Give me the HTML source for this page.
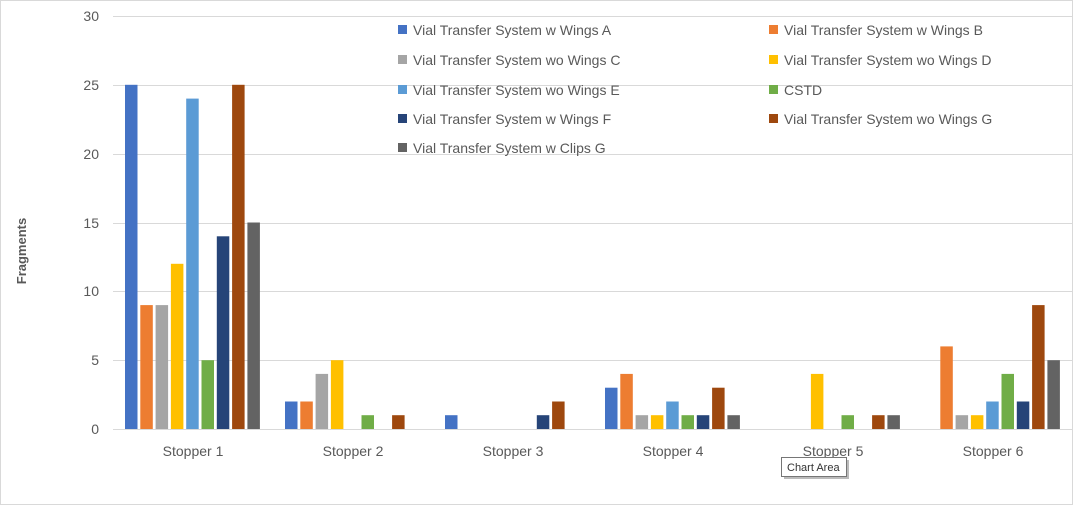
<!DOCTYPE html>
<html><head><style>
body{margin:0;background:#fff;}
svg text{font-family:"Liberation Sans",sans-serif;fill:#595959;}
</style></head><body>
<svg width="1074" height="506" xmlns="http://www.w3.org/2000/svg">
<rect x="0.5" y="0.5" width="1072" height="504" fill="#fff" stroke="#d9d9d9"/>
<g stroke="#d9d9d9" stroke-width="1">
<line x1="113" x2="1073" y1="16.5" y2="16.5"/>
<line x1="113" x2="1073" y1="85.5" y2="85.5"/>
<line x1="113" x2="1073" y1="154.5" y2="154.5"/>
<line x1="113" x2="1073" y1="223.5" y2="223.5"/>
<line x1="113" x2="1073" y1="291.5" y2="291.5"/>
<line x1="113" x2="1073" y1="360.5" y2="360.5"/>
<line x1="113" x2="1073" y1="429.5" y2="429.5"/>
</g>
<g font-size="14" text-anchor="end">
<text x="99" y="21">30</text><text x="99" y="90">25</text><text x="99" y="159">20</text>
<text x="99" y="228">15</text><text x="99" y="296">10</text><text x="99" y="365">5</text><text x="99" y="434">0</text>
</g>
<text transform="translate(26,251) rotate(-90)" font-size="13" font-weight="bold" text-anchor="middle">Fragments</text>
<g>
<!-- Stopper 1 -->
<rect x="125" y="84.8" width="12.5" height="344.2" fill="#4472C4"/>
<rect x="140.3" y="305.1" width="12.5" height="123.9" fill="#ED7D31"/>
<rect x="155.6" y="305.1" width="12.5" height="123.9" fill="#A5A5A5"/>
<rect x="170.9" y="263.8" width="12.5" height="165.2" fill="#FFC000"/>
<rect x="186.2" y="98.6" width="12.5" height="330.4" fill="#5B9BD5"/>
<rect x="201.5" y="360.2" width="12.5" height="68.8" fill="#70AD47"/>
<rect x="216.8" y="236.3" width="12.5" height="192.7" fill="#264478"/>
<rect x="232.1" y="84.8" width="12.5" height="344.2" fill="#9E480E"/>
<rect x="247.4" y="222.5" width="12.5" height="206.5" fill="#636363"/>
<!-- Stopper 2 -->
<rect x="285" y="401.5" width="12.5" height="27.5" fill="#4472C4"/>
<rect x="300.3" y="401.5" width="12.5" height="27.5" fill="#ED7D31"/>
<rect x="315.6" y="373.9" width="12.5" height="55.1" fill="#A5A5A5"/>
<rect x="330.9" y="360.2" width="12.5" height="68.8" fill="#FFC000"/>
<rect x="361.5" y="415.2" width="12.5" height="13.8" fill="#70AD47"/>
<rect x="392.1" y="415.2" width="12.5" height="13.8" fill="#9E480E"/>
<!-- Stopper 3 -->
<rect x="445" y="415.2" width="12.5" height="13.8" fill="#4472C4"/>
<rect x="536.8" y="415.2" width="12.5" height="13.8" fill="#264478"/>
<rect x="552.1" y="401.5" width="12.5" height="27.5" fill="#9E480E"/>
<!-- Stopper 4 -->
<rect x="605" y="387.7" width="12.5" height="41.3" fill="#4472C4"/>
<rect x="620.3" y="373.9" width="12.5" height="55.1" fill="#ED7D31"/>
<rect x="635.6" y="415.2" width="12.5" height="13.8" fill="#A5A5A5"/>
<rect x="650.9" y="415.2" width="12.5" height="13.8" fill="#FFC000"/>
<rect x="666.2" y="401.5" width="12.5" height="27.5" fill="#5B9BD5"/>
<rect x="681.5" y="415.2" width="12.5" height="13.8" fill="#70AD47"/>
<rect x="696.8" y="415.2" width="12.5" height="13.8" fill="#264478"/>
<rect x="712.1" y="387.7" width="12.5" height="41.3" fill="#9E480E"/>
<rect x="727.4" y="415.2" width="12.5" height="13.8" fill="#636363"/>
<!-- Stopper 5 -->
<rect x="810.9" y="373.9" width="12.5" height="55.1" fill="#FFC000"/>
<rect x="841.5" y="415.2" width="12.5" height="13.8" fill="#70AD47"/>
<rect x="872.1" y="415.2" width="12.5" height="13.8" fill="#9E480E"/>
<rect x="887.4" y="415.2" width="12.5" height="13.8" fill="#636363"/>
<!-- Stopper 6 -->
<rect x="940.3" y="346.4" width="12.5" height="82.6" fill="#ED7D31"/>
<rect x="955.6" y="415.2" width="12.5" height="13.8" fill="#A5A5A5"/>
<rect x="970.9" y="415.2" width="12.5" height="13.8" fill="#FFC000"/>
<rect x="986.2" y="401.5" width="12.5" height="27.5" fill="#5B9BD5"/>
<rect x="1001.5" y="373.9" width="12.5" height="55.1" fill="#70AD47"/>
<rect x="1016.8" y="401.5" width="12.5" height="27.5" fill="#264478"/>
<rect x="1032.1" y="305.1" width="12.5" height="123.9" fill="#9E480E"/>
<rect x="1047.4" y="360.2" width="12.5" height="68.8" fill="#636363"/>
</g>
<g font-size="14" text-anchor="middle">
<text x="193" y="456">Stopper 1</text><text x="353" y="456">Stopper 2</text><text x="513" y="456">Stopper 3</text>
<text x="673" y="456">Stopper 4</text><text x="833" y="456">Stopper 5</text><text x="993" y="456">Stopper 6</text>
</g>
<g font-size="14">
<rect x="398" y="25" width="9" height="9" fill="#4472C4"/><text x="413" y="35">Vial Transfer System w Wings A</text>
<rect x="769" y="25" width="9" height="9" fill="#ED7D31"/><text x="784" y="35">Vial Transfer System w Wings B</text>
<rect x="398" y="55" width="9" height="9" fill="#A5A5A5"/><text x="413" y="65">Vial Transfer System wo Wings C</text>
<rect x="769" y="55" width="9" height="9" fill="#FFC000"/><text x="784" y="65">Vial Transfer System wo Wings D</text>
<rect x="398" y="85" width="9" height="9" fill="#5B9BD5"/><text x="413" y="95">Vial Transfer System wo Wings E</text>
<rect x="769" y="85" width="9" height="9" fill="#70AD47"/><text x="784" y="95">CSTD</text>
<rect x="398" y="114" width="9" height="9" fill="#264478"/><text x="413" y="124">Vial Transfer System w Wings F</text>
<rect x="769" y="114" width="9" height="9" fill="#9E480E"/><text x="784" y="124">Vial Transfer System wo Wings G</text>
<rect x="398" y="143" width="9" height="9" fill="#636363"/><text x="413" y="153">Vial Transfer System w Clips G</text>
</g>
<rect x="781.5" y="457.5" width="65" height="19" fill="#fff" stroke="#767676"/>
<line x1="784" y1="478" x2="849" y2="478" stroke="#bbb" stroke-width="2"/>
<line x1="848" y1="460" x2="848" y2="478" stroke="#bbb" stroke-width="2"/>
<text x="787" y="471" font-size="11" style="fill:#333">Chart Area</text>
</svg>
</body></html>
